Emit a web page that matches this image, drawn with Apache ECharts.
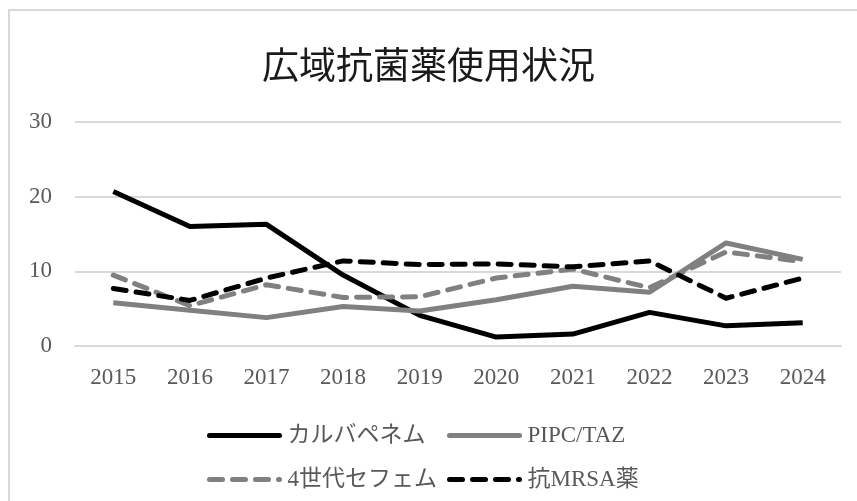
<!DOCTYPE html>
<html>
<head>
<meta charset="utf-8">
<title>広域抗菌薬使用状況</title>
<script src="https://cdn.jsdelivr.net/npm/echarts@6/dist/echarts.min.js"></script>
<style>
    html, body { margin: 0; padding: 0; background: #fff; }
    #chart { width: 857px; height: 501px; }
</style>
</head>
<body>
<div id="chart"></div>
<script>
// データ
const years = ['2015', '2016', '2017', '2018', '2019', '2020', '2021', '2022', '2023', '2024'];
const carbapenem = [20.7, 16.0, 16.3, 9.5, 4.1, 1.2, 1.6, 4.5, 2.7, 3.1];
const pipcTaz = [5.8, 4.8, 3.8, 5.3, 4.7, 6.2, 8.0, 7.2, 13.8, 11.6];
const cephem4 = [9.5, 5.4, 8.2, 6.5, 6.6, 9.1, 10.3, 7.8, 12.6, 11.3];
const antiMrsa = [7.7, 6.1, 9.1, 11.4, 10.9, 11.0, 10.6, 11.4, 6.4, 9.1];
const seriesNames = ['カルバペネム', 'PIPC/TAZ', '4世代セフェム', '抗MRSA薬'];

(function () {
    const my_echart = echarts.init(document.getElementById('chart'), null, { renderer: 'canvas' });
    const font = '"Liberation Serif", "DejaVu Serif", "Noto Sans CJK JP", serif';
    const textColor = '#595959';
    const dash = [13, 10];

    // 凡例（2行2列）
    function legendItem(name, left, top, color, dashed) {
        return {
            data: [name],
            left: left,
            top: top,
            itemWidth: 70,
            itemHeight: 14,
            padding: 0,
            selectedMode: false,
            itemStyle: { opacity: 0 }, //記号は非表示
            lineStyle: {
                color: color,
                width: 5,
                type: dashed ? dash : 'solid',
                cap: 'round'
            },
            textStyle: {
                fontFamily: font,
                fontSize: 23,
                color: textColor,
                padding: [0, 0, 0, 3]
            }
        };
    }

    function lineSeries(name, data, color, dashed) {
        return {
            name: name,
            type: 'line',
            data: data,
            symbol: 'none',
            smooth: false,
            lineStyle: {
                color: color,
                width: 5,
                type: dashed ? dash : 'solid',
                cap: dashed ? 'round' : 'butt',
                join: 'round'
            },
            itemStyle: { color: color },
            emphasis: { disabled: true }
        };
    }

    let option = {
        backgroundColor: '#fff',
        animation: false,
        graphic: [
            {
                type: 'rect',
                shape: { x: 9, y: 10, width: 900, height: 600 },
                style: { fill: 'none', stroke: '#d9d9d9', lineWidth: 2 },
                silent: true
            }
        ],
        title: {
            text: '広域抗菌薬使用状況',
            left: 'center',
            top: 41,
            textStyle: {
                fontFamily: '"Noto Sans CJK JP", sans-serif',
                fontWeight: 'normal',
                fontSize: 37,
                color: '#1a1a1a'
            }
        },
        legend: [
            legendItem(seriesNames[0], 207, 424, '#000000', false),
            legendItem(seriesNames[1], 447, 424, '#808080', false),
            legendItem(seriesNames[2], 207, 468, '#808080', true),
            legendItem(seriesNames[3], 447, 468, '#000000', true)
        ],
        grid: {
            left: 75,
            right: 16,
            top: 122,
            bottom: 155,
            containLabel: false
        },
        xAxis: {
            type: 'category',
            data: years,
            boundaryGap: true,
            axisLine: { show: true, lineStyle: { color: '#d9d9d9', width: 2 } },
            axisTick: { show: false },
            axisLabel: {
                fontFamily: font,
                fontSize: 23,
                color: textColor,
                margin: 20
            }
        },
        yAxis: {
            type: 'value',
            min: 0,
            max: 30,
            interval: 10,
            axisLine: { show: false },
            axisTick: { show: false },
            splitLine: { lineStyle: { color: '#d9d9d9', width: 2 } },
            axisLabel: {
                fontFamily: font,
                fontSize: 23,
                color: textColor,
                margin: 23
            }
        },
        series: [
            lineSeries(seriesNames[0], carbapenem, '#000000', false),
            lineSeries(seriesNames[1], pipcTaz, '#808080', false),
            lineSeries(seriesNames[2], cephem4, '#808080', true),
            lineSeries(seriesNames[3], antiMrsa, '#000000', true)
        ]
    };
    my_echart.setOption(option);
    window.addEventListener('resize', function () {
        my_echart.resize();
    });
})();
</script>
</body>
</html>
